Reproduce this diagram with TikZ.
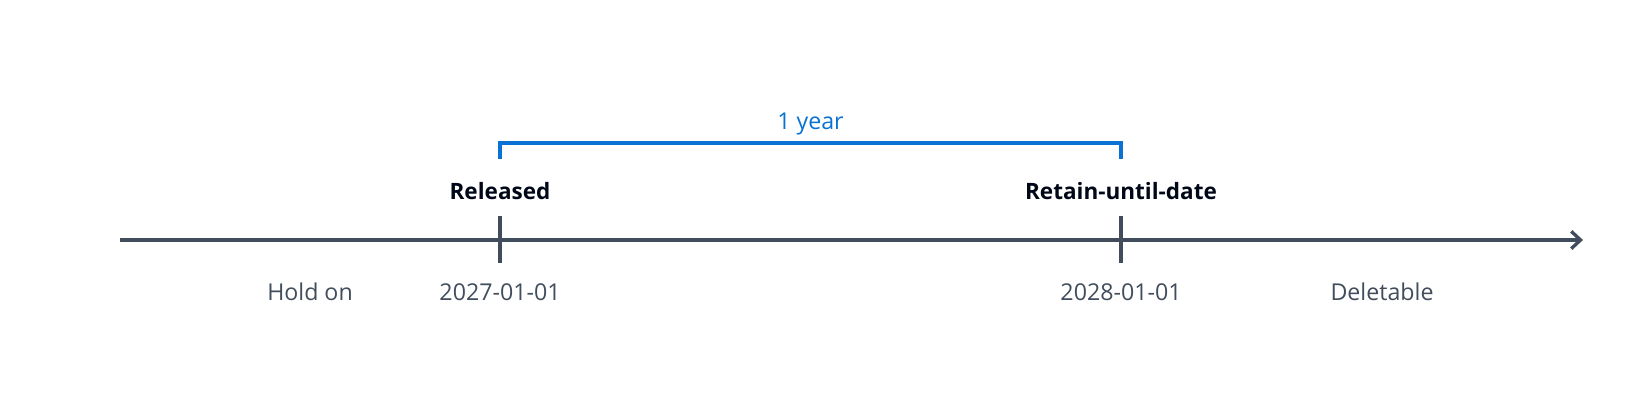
\documentclass[tikz,border=0pt]{standalone}
\usepackage{fontspec}
\setmainfont{Open Sans}
\usetikzlibrary{arrows.meta}
\definecolor{axisgray}{HTML}{414D5C}
\definecolor{spanblue}{HTML}{0972D3}
\definecolor{labelink}{HTML}{000716}

\tikzset{
  timeline/.style={draw=axisgray, line width=2.5pt, -{Straight Barb[length=7pt, width=13pt]}},
  tickmark/.style={draw=axisgray, line width=2.5pt},
  span/.style={draw=spanblue, line width=2.3pt},
  eventlabel/.style={anchor=base, inner sep=0pt, text=labelink, font=\fontsize{16.9}{20}\selectfont\bfseries},
  datelabel/.style={anchor=base, inner sep=0pt, text=axisgray, font=\fontsize{17.4}{20}\selectfont},
  spanlabel/.style={anchor=base, inner sep=0pt, text=spanblue, font=\fontsize{17.4}{20}\selectfont}
}

\begin{document}
\begin{tikzpicture}[x=0.75pt, y=-0.75pt]
\useasboundingbox (0,0) rectangle (1640,420);
\coordinate (start) at (120,240);
\coordinate (end) at (1583,240);
\coordinate (released top) at (500,216);
\coordinate (released bottom) at (500,263);
\coordinate (retain top) at (1121,216);
\coordinate (retain bottom) at (1121,263);
\coordinate (span left) at (500,159);
\coordinate (span right) at (1121,159);
\draw[timeline] (start) -- (end);
\draw[tickmark] (released top) -- (released bottom);
\draw[tickmark] (retain top) -- (retain bottom);
\draw[span] (span left) -- ++(0,-16) -| (span right);
\node[spanlabel] (span text) at (810.5,130) {1 year};
\node[eventlabel] (released) at (500,200) {Released};
\node[eventlabel] (retain) at (1121,200) {Retain-until-date};
\node[datelabel] (hold) at (310,300) {Hold on};
\node[datelabel] (released date) at (500,300) {2027-01-01};
\node[datelabel] (retain date) at (1121,300) {2028-01-01};
\node[datelabel] (deletable) at (1382,300) {Deletable};
\end{tikzpicture}
\end{document}
